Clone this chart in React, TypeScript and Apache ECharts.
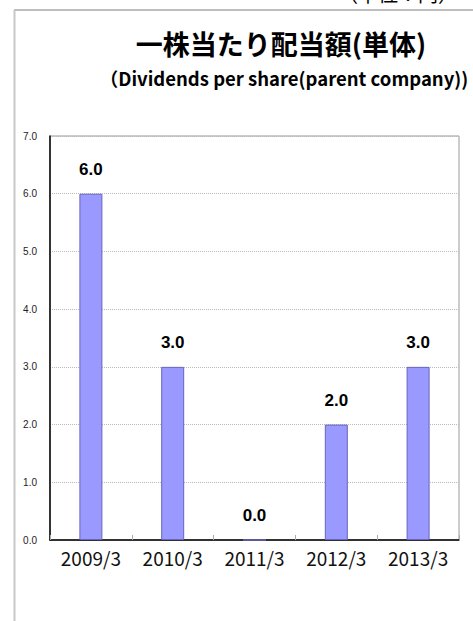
import React, { useEffect, useRef } from "react";
import * as echarts from "echarts";

const categories = ["2009/3", "2010/3", "2011/3", "2012/3", "2013/3"];
const dividends = [6.0, 3.0, 0.0, 2.0, 3.0];
const titleText = "一株当たり配当額(単体)";
const subtitleText = "（Dividends per share(parent company))";
const unitText = "（単位：円）";

export default function App() {
  const ref = useRef<HTMLDivElement>(null);
  useEffect(() => {
    if (!ref.current) return;
    const chart = echarts.init(ref.current, undefined, { renderer: "svg" });
    chart.setOption({
      animation: false,
      backgroundColor: "#ffffff",
      title: [
        {
          text: titleText,
          left: 276,
          top: 25,
          textAlign: "center",
          textStyle: { fontSize: 27, fontWeight: "bold", color: "#000", fontFamily: "Noto Sans CJK JP" },
        },
        {
          text: subtitleText,
          left: 279,
          top: 64,
          textAlign: "center",
          textStyle: { fontSize: 18.5, fontWeight: "bold", color: "#000", fontFamily: "Noto Sans CJK JP" },
        },
      ],
      graphic: [
        { type: "line", shape: { x1: 14, y1: 10, x2: 473, y2: 10 }, style: { stroke: "#a8a8a8", lineWidth: 1.5 } },
        { type: "line", shape: { x1: 14.5, y1: 10, x2: 14.5, y2: 621 }, style: { stroke: "#c8c8c8", lineWidth: 2 } },
        {
          type: "text",
          left: 338,
          top: -17,
          style: { text: unitText, fontSize: 20, fill: "#000", fontFamily: "Noto Sans CJK JP" },
        },
      ],
      grid: {
        left: 50,
        top: 136,
        right: 14,
        bottom: 81,
        show: true,
        borderColor: "#999",
        borderWidth: 1,
        backgroundColor: "transparent",
      },
      xAxis: {
        type: "category",
        data: categories,
        axisLine: { lineStyle: { color: "#000", width: 1.5 } },
        axisTick: { show: true, inside: true, length: 5, lineStyle: { color: "#aaa" } },
        axisLabel: { fontSize: 19, color: "#111", margin: 8, fontFamily: "Noto Sans CJK JP" },
      },
      yAxis: {
        type: "value",
        min: 0,
        max: 7,
        interval: 1,
        axisLine: { show: true, lineStyle: { color: "#000", width: 1.5 } },
        axisTick: { show: false },
        axisLabel: {
          fontSize: 10,
          color: "#222",
          margin: 13,
          fontFamily: "Liberation Sans",
          formatter: (v: number) => v.toFixed(1),
        },
        splitLine: { show: true, lineStyle: { color: "#bbb", type: "dotted", width: 1 } },
      },
      series: [
        {
          type: "bar",
          data: dividends,
          barWidth: 23,
          itemStyle: { color: "#9999ff", borderColor: "#6666bb", borderWidth: 1 },
          label: {
            show: true,
            position: "top",
            distance: 16,
            fontSize: 17,
            fontWeight: "bold",
            color: "#000",
            fontFamily: "Liberation Sans",
            formatter: (p: any) => Number(p.value).toFixed(1),
          },
        },
      ],
    });
    return () => chart.dispose();
  }, []);
  return (
    <div
      ref={ref}
      style={{ position: "absolute", left: 0, top: 0, width: 473, height: 621 }}
    />
  );
}
